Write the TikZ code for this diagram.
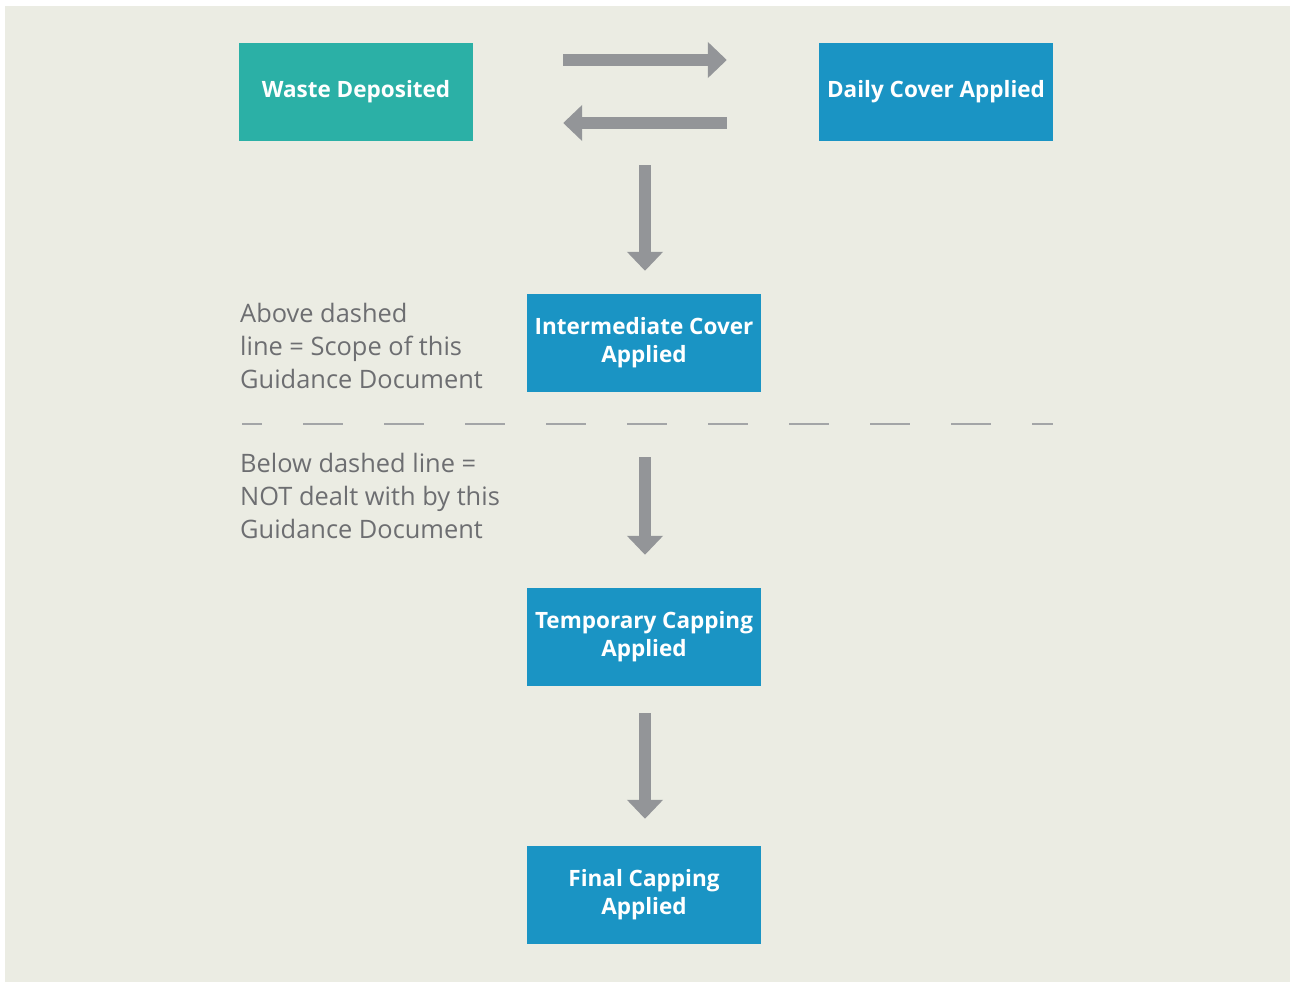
\documentclass[tikz,border=0pt]{standalone}
\usepackage{fontspec}
\setmainfont{Open Sans}
\usetikzlibrary{arrows.meta}
\definecolor{bgbeige}{HTML}{EBECE3}
\definecolor{tealbox}{HTML}{2BB0A6}
\definecolor{bluebox}{HTML}{1A94C4}
\definecolor{arrowgrey}{HTML}{939598}
\definecolor{textgrey}{HTML}{6D6E71}
\begin{document}
\begin{tikzpicture}[x=1pt,y=-1pt,
  stagebox/.style={fill=bluebox, text=white, minimum width=234pt, minimum height=98pt,
    inner sep=0pt, align=center, font=\fontsize{22.5}{28}\selectfont\bfseries},
  fatarrow/.style={draw=arrowgrey, line width=12pt, -{Triangle[width=35pt,length=19pt]}},
  scopenote/.style={anchor=west, inner sep=0pt, align=left, text=textgrey,
    font=\fontsize{25.4}{33}\selectfont}]
\useasboundingbox (0,0) rectangle (1290,982);
\fill[white] (0,0) rectangle (1290,982);
\fill[bgbeige] (5,6) rectangle (1290,982);

\node[stagebox, fill=tealbox] (waste) at (356,92) {Waste Deposited};
\node[stagebox] (daily) at (936,92) {Daily Cover Applied};
\node[stagebox] (inter) at (644,343) {Intermediate Cover\\Applied};
\node[stagebox] (temp) at (644,637) {Temporary Capping\\Applied};
\node[stagebox] (final) at (644,895) {Final Capping\\Applied};

% back and forth between the two top boxes
\draw[fatarrow, shorten <=90pt, shorten >=92pt] ([yshift=32pt]waste.east) -- ([yshift=32pt]daily.west);
\draw[fatarrow, shorten <=92pt, shorten >=90pt] ([yshift=-31pt]daily.west) -- ([yshift=-31pt]waste.east);

% down the stages
\coordinate (topgap) at (645,165);
\draw[fatarrow, shorten >=23pt] (topgap) -- (inter.north -| topgap);
\draw[fatarrow, shorten <=65pt, shorten >=33pt] (inter.south -| topgap) -- (temp.north -| topgap);
\draw[fatarrow, shorten <=27pt, shorten >=27pt] (temp.south -| topgap) -- (final.north -| topgap);

% scope line
\coordinate (dashstart) at (242,424);
\coordinate (dashend) at (1053,424);
\draw[draw=arrowgrey!85, line width=2.5pt, dash pattern=on 40pt off 41pt, dash phase=20pt] (dashstart) -- (dashend);

\node[scopenote] (above) at (240,346) {Above dashed\\line = Scope of this\\Guidance Document};
\node[scopenote] (below) at (240,496) {Below dashed line =\\NOT dealt with by this\\Guidance Document};
\end{tikzpicture}
\end{document}
